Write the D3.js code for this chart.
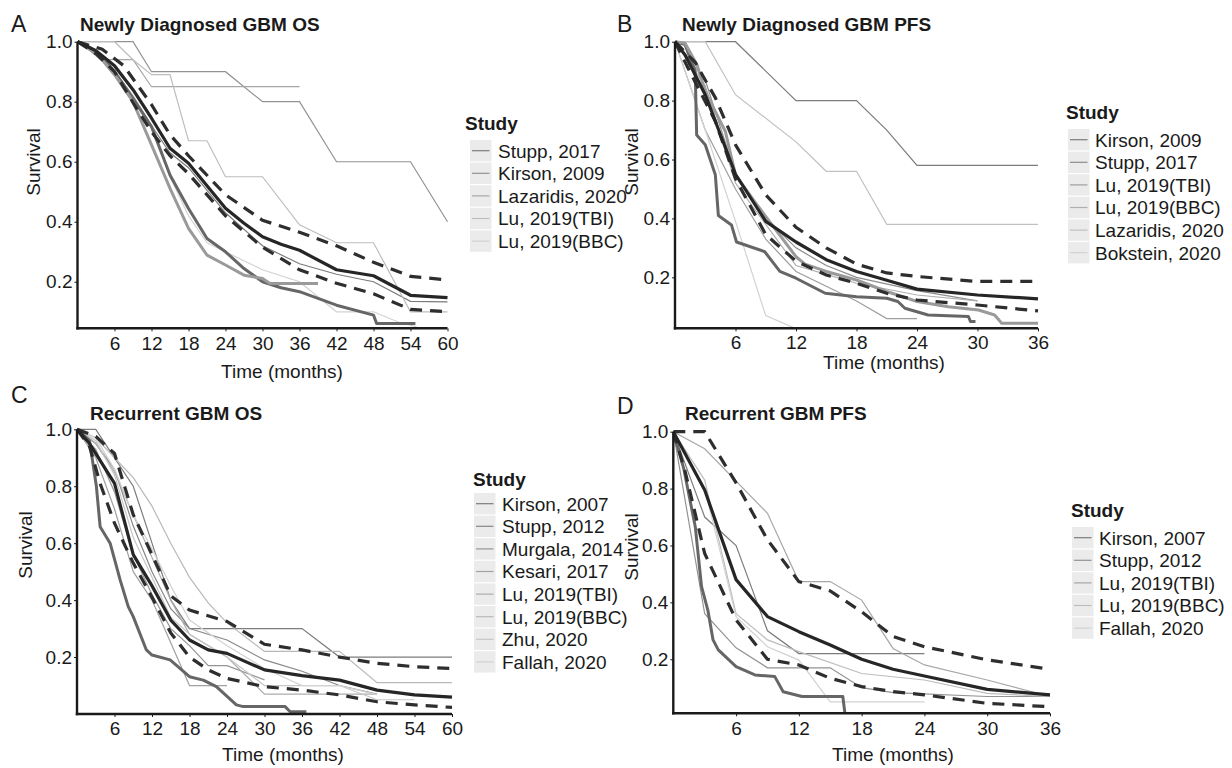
<!DOCTYPE html>
<html>
<head>
<meta charset="utf-8">
<script src="https://cdn.jsdelivr.net/npm/d3@7"></script>
<style>
  body { margin: 0; background: #fff; }
  text { font-family: "Liberation Sans", Arial, sans-serif; fill: #1a1a1a; }
</style>
</head>
<body>
<script>
// ---- tick values ----
const ticks60 = [6, 12, 18, 24, 30, 36, 42, 48, 54, 60];
const ticks36 = [6, 12, 18, 24, 30, 36];
const yTicks  = [0.2, 0.4, 0.6, 0.8, 1.0];

// ---- [A] Newly diagnosed GBM OS : [month, survival] ----
const studiesA = ["Stupp, 2017", "Kirson, 2009", "Lazaridis, 2020", "Lu, 2019(TBI)", "Lu, 2019(BBC)"];
const A_stupp2017    = [[0,1],[3,0.96],[6,0.9],[9,0.82],[12,0.72],[15,0.63],[18,0.58],[24,0.43],[30,0.32],[36,0.26],[42,0.225],[48,0.2],[54,0.135],[60,0.133]];
const A_kirson2009   = [[0,1],[9,1],[12,0.9],[24,0.9],[30,0.8],[36,0.8],[42,0.6],[54,0.6],[60,0.4]];
const A_lazaridis    = [[0,1],[4,0.94],[9,0.94],[12,0.85],[36,0.85]];
const A_luTBI        = [[0,1],[6,1],[9,0.94],[12,0.89],[15,0.89],[18,0.67],[21,0.67],[24,0.55],[30,0.55],[36,0.39],[42,0.33],[48,0.33],[54,0.1],[60,0.1]];
const A_luBBC        = [[0,1],[3,0.97],[6,0.9],[9,0.82],[12,0.72],[15,0.55],[18,0.42],[21,0.33],[24,0.3],[30,0.24],[36,0.2],[42,0.1],[48,0.1],[52,0.066],[55,0.05]];
const A_ref1         = [[0,1],[2,0.98],[4.2,0.944],[6,0.9],[9,0.811],[12,0.717],[15,0.556],[18,0.444],[21,0.344],[24,0.3],[27,0.244],[30,0.2],[33,0.18],[36,0.167],[42,0.122],[48,0.089],[48.5,0.061],[54.8,0.061]];
const A_ref2         = [[0,1],[2,0.975],[4.2,0.935],[6,0.89],[9,0.8],[12,0.656],[15,0.511],[18,0.378],[21,0.289],[24,0.256],[27,0.222],[30,0.211],[31.2,0.194],[39,0.194]];
const A_pooled       = [[0,1],[3,0.97],[6,0.92],[9,0.84],[12,0.745],[15,0.645],[18,0.595],[21,0.52],[24,0.445],[27,0.395],[30,0.35],[33,0.325],[36,0.305],[42,0.24],[48,0.22],[54,0.155],[60,0.147]];
const A_upper        = [[0,1],[4,0.975],[7.5,0.92],[12,0.79],[15,0.69],[18,0.62],[24,0.49],[30,0.405],[36,0.365],[42,0.32],[48,0.265],[54,0.218],[60,0.206]];
const A_lower        = [[0,1],[3,0.96],[6,0.9],[9.5,0.78],[12,0.7],[15,0.62],[18,0.56],[24,0.42],[30,0.315],[36,0.24],[42,0.195],[48,0.16],[54,0.108],[60,0.1]];

// ---- [B] Newly diagnosed GBM PFS ----
const studiesB = ["Kirson, 2009", "Stupp, 2017", "Lu, 2019(TBI)", "Lu, 2019(BBC)", "Lazaridis, 2020", "Bokstein, 2020"];
const B_kirson2009   = [[0,1],[6,1],[12,0.8],[18,0.8],[21,0.7],[24,0.58],[36,0.58]];
const B_stupp2017    = [[0,1],[3,0.87],[6,0.55],[9,0.4],[12,0.3],[15,0.24],[18,0.2],[24,0.155],[30,0.12]];
const B_luTBI        = [[0,1],[1,0.9],[3,0.7],[6,0.5],[9,0.33],[12,0.22],[18,0.12],[21,0.06],[24,0.06]];
const B_luBBC        = [[0,1],[3,0.85],[6,0.52],[9,0.38],[12,0.24],[15,0.21],[18,0.18],[24,0.14],[30,0.12]];
const B_lazaridis    = [[0,1],[3,1],[6,0.82],[12,0.66],[15,0.56],[18,0.56],[21,0.38],[36,0.38]];
const B_bokstein     = [[0,1],[1,0.9],[3,0.7],[6,0.39],[9,0.07],[11.7,0.03]];
const B_ref1         = [[0,1],[1,0.99],[2,0.9],[2.15,0.683],[3,0.65],[4,0.548],[4.3,0.41],[5.6,0.378],[6.1,0.32],[8.9,0.287],[10.4,0.22],[12,0.197],[14.9,0.146],[18,0.134],[21,0.129],[22.1,0.118],[22.8,0.095],[25.1,0.072],[29.1,0.067],[29.3,0.05],[29.8,0.05]];
const B_ref2         = [[0,1],[1,0.995],[2.2,0.92],[3,0.83],[5,0.695],[6,0.548],[7.9,0.457],[12,0.27],[12.9,0.245],[15,0.22],[18,0.191],[21,0.152],[24,0.118],[27.1,0.1],[30.1,0.089],[31.7,0.072],[32.4,0.044],[36,0.044]];
const B_pooled       = [[0,1],[1,0.955],[3,0.82],[6,0.55],[9,0.39],[12,0.32],[15,0.26],[18,0.22],[21,0.19],[24,0.16],[30,0.14],[36,0.127]];
const B_upper        = [[0,1],[2,0.93],[4,0.81],[6,0.65],[9,0.48],[12,0.37],[15,0.3],[18,0.245],[21,0.215],[24,0.203],[30,0.186],[36,0.186]];
const B_lower        = [[0,1],[1.3,0.91],[4,0.73],[6,0.535],[9,0.345],[12,0.255],[15,0.208],[18,0.18],[21,0.146],[24,0.123],[30,0.106],[36,0.086]];

// ---- [C] Recurrent GBM OS ----
const studiesC = ["Kirson, 2007", "Stupp, 2012", "Murgala, 2014", "Kesari, 2017", "Lu, 2019(TBI)", "Lu, 2019(BBC)", "Zhu, 2020", "Fallah, 2020"];
const C_kirson2007   = [[0,1],[3,1],[9,0.8],[12,0.6],[15,0.4],[18,0.3],[36,0.3],[42,0.2],[60,0.2]];
const C_stupp2012    = [[0,1],[3,0.95],[6,0.86],[9,0.66],[12,0.5],[15,0.37],[18,0.3],[24,0.26],[30,0.19],[36,0.15],[42,0.1],[48,0.07]];
const C_murgala2014  = [[0,1],[3,0.93],[6,0.78],[9,0.56],[12,0.42],[15,0.3],[18,0.24],[21,0.17],[24,0.17],[30,0.12]];
const C_kesari2017   = [[0,1],[3,0.9],[6,0.72],[9,0.5],[12,0.4],[15,0.25],[18,0.1],[24,0.1]];
const C_luTBI        = [[0,1],[3,0.95],[6,0.85],[9,0.7],[12,0.55],[15,0.4],[18,0.28],[24,0.2],[30,0.07],[48,0.07]];
const C_luBBC        = [[0,1],[3,0.97],[6,0.9],[9,0.83],[12,0.73],[15,0.6],[18,0.48],[21,0.39],[24,0.32],[30,0.22],[42,0.22],[48,0.11],[60,0.11]];
const C_zhu2020      = [[0,1],[3,0.96],[6,0.84],[9,0.62],[12,0.48],[15,0.34],[18,0.28],[24,0.2],[30,0.1],[42,0.1],[48,0.05],[54,0.05]];
const C_fallah2020   = [[0,1],[3,0.97],[6,0.86],[9,0.7],[12,0.58],[15,0.45],[18,0.33],[24,0.24],[30,0.16],[36,0.1],[42,0.1],[48,0.068]];
const C_ref1         = [[0,1],[2,0.96],[3.1,0.8],[3.7,0.658],[5.3,0.6],[6.9,0.471],[8.2,0.377],[9,0.342],[11.1,0.225],[12,0.207],[14.9,0.19],[18,0.131],[20.2,0.119],[22.3,0.096],[25.5,0.032],[26.6,0.026],[33.3,0.026],[34.1,0.008],[36.7,0.008]];
const C_pooled       = [[0,1],[2,0.95],[6,0.81],[9,0.56],[12,0.45],[15,0.33],[18,0.26],[21,0.225],[24,0.213],[30,0.155],[36,0.135],[42,0.119],[48,0.084],[54,0.067],[60,0.059]];
const C_upper        = [[0,1],[3,0.975],[6,0.915],[9,0.7],[12,0.56],[15,0.415],[18,0.365],[24,0.325],[30,0.245],[36,0.225],[42,0.2],[48,0.178],[54,0.166],[60,0.16]];
const C_lower        = [[0,1],[2,0.94],[3.7,0.81],[6,0.67],[9,0.53],[12,0.41],[15,0.285],[18,0.2],[21,0.155],[24,0.125],[30,0.096],[36,0.084],[42,0.067],[48,0.043],[54,0.032],[60,0.023]];

// ---- [D] Recurrent GBM PFS ----
const studiesD = ["Kirson, 2007", "Stupp, 2012", "Lu, 2019(TBI)", "Lu, 2019(BBC)", "Fallah, 2020"];
const D_kirson2007   = [[0,1],[3,0.7],[6,0.6],[9,0.3],[12,0.22],[24,0.22]];
const D_stupp2012    = [[0,1],[3,0.36],[6,0.24],[9,0.17],[15,0.17],[18,0.1],[21,0.083],[30,0.069],[36,0.069]];
const D_luTBI        = [[0,1],[3,0.94],[9,0.713],[12,0.473],[15,0.473],[18,0.408],[21,0.238],[24,0.18],[30,0.127],[36,0.069]];
const D_luBBC        = [[0,1],[3,0.83],[6,0.36],[9,0.268],[12,0.227],[18,0.15],[24,0.127],[30,0.08],[36,0.069]];
const D_fallah2020   = [[0,1],[3,0.8],[6,0.35],[9,0.244],[12,0.197],[15,0.05],[24,0.05]];
const D_ref1         = [[0,1],[1,0.87],[2.1,0.666],[2.7,0.455],[3.3,0.373],[3.8,0.268],[4.3,0.233],[6,0.174],[7.8,0.145],[9.7,0.139],[10.5,0.086],[12.3,0.069],[16.2,0.069],[16.4,0.01]];
const D_pooled       = [[0,1],[3,0.795],[6,0.48],[9,0.35],[12,0.297],[15,0.25],[18,0.2],[21,0.165],[24,0.141],[30,0.094],[36,0.075]];
const D_upper        = [[0,1],[3,1],[6,0.82],[9,0.62],[12,0.473],[15,0.44],[18,0.367],[21,0.28],[24,0.244],[30,0.198],[36,0.165]];
const D_lower        = [[0,1],[1.1,0.865],[3,0.572],[6,0.338],[9,0.2],[12,0.18],[15,0.133],[18,0.104],[21,0.086],[24,0.075],[30,0.045],[36,0.033]];

// ---- panels (layout lives here, data comes from the arrays above) ----
const panels = [
  { letter: "A", title: "Newly Diagnosed GBM OS", xMax: 60, ticks: ticks60, yMin: 0.045,
    left: 77.5, right: 447.5, top: 41.7, bottom: 328.3, tickPad: 5,
    letterPos: [11, 32], titlePos: [80, 31], ylabPos: [40, 162], xlabPos: [282, 378],
    names: studiesA, studies: [A_stupp2017, A_kirson2009, A_lazaridis, A_luTBI, A_luBBC],
    refs: [A_ref1, A_ref2], pooled: A_pooled, upper: A_upper, lower: A_lower,
    legend: { x: 465, titleY: 130, keyX: 470, rowY: 140, textX: 498 } },
  { letter: "B", title: "Newly Diagnosed GBM PFS", xMax: 36, ticks: ticks36, yMin: 0.027,
    left: 675, right: 1038, top: 41.7, bottom: 328.3, tickPad: 4,
    letterPos: [617, 32], titlePos: [682, 31], ylabPos: [638, 162], xlabPos: [884, 369],
    names: studiesB, studies: [B_kirson2009, B_stupp2017, B_luTBI, B_luBBC, B_lazaridis, B_bokstein],
    refs: [B_ref1, B_ref2], pooled: B_pooled, upper: B_upper, lower: B_lower,
    legend: { x: 1066, titleY: 119, keyX: 1068, rowY: 129, textX: 1095 } },
  { letter: "C", title: "Recurrent GBM OS", xMax: 60, ticks: ticks60, yMin: 0.0,
    left: 77, right: 452, top: 429.3, bottom: 714, tickPad: 5,
    letterPos: [11, 403], titlePos: [90, 420], ylabPos: [32, 545], xlabPos: [283, 761],
    names: studiesC, studies: [C_kirson2007, C_stupp2012, C_murgala2014, C_kesari2017, C_luTBI, C_luBBC, C_zhu2020, C_fallah2020],
    refs: [C_ref1], pooled: C_pooled, upper: C_upper, lower: C_lower,
    legend: { x: 473, titleY: 486, keyX: 474, rowY: 493, textX: 502 } },
  { letter: "D", title: "Recurrent GBM PFS", xMax: 36, ticks: ticks36, yMin: 0.01,
    left: 673.3, right: 1050, top: 431.7, bottom: 713.3, tickPad: 5,
    letterPos: [617, 414], titlePos: [685, 420], ylabPos: [638, 547], xlabPos: [893, 761],
    names: studiesD, studies: [D_kirson2007, D_stupp2012, D_luTBI, D_luBBC, D_fallah2020],
    refs: [D_ref1], pooled: D_pooled, upper: D_upper, lower: D_lower,
    legend: { x: 1071, titleY: 517, keyX: 1072, rowY: 527, textX: 1099 } }
];

const refColors = ["#666666", "#9a9a9a"];
const rowH = 22.6;

const svg = d3.select("body").append("svg")
    .attr("width", 1232)
    .attr("height", 768);

panels.forEach((p, pi) => {
    const x = d3.scaleLinear().domain([0, p.xMax]).range([p.left, p.right]);
    const y = d3.scaleLinear().domain([p.yMin, 1]).range([p.bottom, p.top]);
    const shade = d3.scaleLinear().domain([0, p.names.length - 1]).range(["#7c7c7c", "#d2d2d2"]);

    const line = d3.line()
        .x(d => x(d[0]))
        .y(d => y(d[1]));

    const g = svg.append("g");

    g.append("clipPath").attr("id", "clip" + pi)
      .append("rect")
        .attr("x", p.left).attr("y", p.top - 4)
        .attr("width", p.right - p.left + 4).attr("height", p.bottom - p.top + 4);

    const plot = g.append("g").attr("clip-path", `url(#clip${pi})`);

    // individual studies, thin greys
    plot.selectAll("path.study")
        .data(p.studies)
        .enter().append("path")
            .attr("class", "study")
            .attr("fill", "none")
            .attr("stroke", (d, i) => shade(i))
            .attr("stroke-width", 1.2)
            .attr("d", line);

    // thick grey reference curves
    plot.selectAll("path.ref")
        .data(p.refs)
        .enter().append("path")
            .attr("class", "ref")
            .attr("fill", "none")
            .attr("stroke", (d, i) => refColors[i])
            .attr("stroke-width", 3)
            .attr("stroke-linejoin", "round")
            .attr("d", line);

    // pooled curve and its interval
    [p.upper, p.lower].forEach(ci => {
        plot.append("path")
            .attr("fill", "none")
            .attr("stroke", "#2e2e2e")
            .attr("stroke-width", 3.2)
            .attr("stroke-dasharray", "12,8")
            .attr("d", line(ci));
    });
    plot.append("path")
        .attr("fill", "none")
        .attr("stroke", "#262626")
        .attr("stroke-width", 3.2)
        .attr("stroke-linejoin", "round")
        .attr("d", line(p.pooled));

    // axes
    const xAxis = d3.axisBottom(x).tickValues(p.ticks).tickSize(3).tickSizeOuter(0).tickPadding(p.tickPad);
    const yAxis = d3.axisLeft(y).tickValues(yTicks).tickSize(3).tickSizeOuter(0).tickPadding(2)
        .tickFormat(d3.format(".1f"));

    g.append("g")
        .attr("transform", `translate(0,${p.bottom})`)
        .call(xAxis)
        .call(a => a.select(".domain").attr("stroke", "#1a1a1a").attr("stroke-width", 2.4)
            .attr("d", `M${p.left - 1.2},0H${p.right}`))
        .call(a => a.selectAll(".tick line").attr("stroke", "#1a1a1a"))
        .call(a => a.selectAll("text").attr("font-size", 19).attr("fill", "#1a1a1a")
            .attr("font-family", "Liberation Sans, Arial, sans-serif"));

    g.append("g")
        .attr("transform", `translate(${p.left},0)`)
        .call(yAxis)
        .call(a => a.select(".domain").attr("stroke", "#1a1a1a").attr("stroke-width", 2.4)
            .attr("d", `M0,${p.top}V${p.bottom + 1.2}`))
        .call(a => a.selectAll(".tick line").attr("stroke", "#1a1a1a"))
        .call(a => a.selectAll("text").attr("font-size", 19).attr("fill", "#1a1a1a")
            .attr("font-family", "Liberation Sans, Arial, sans-serif"));

    // labels
    g.append("text")
        .attr("x", p.letterPos[0]).attr("y", p.letterPos[1])
        .attr("font-size", 23)
        .text(p.letter);

    g.append("text")
        .attr("x", p.titlePos[0]).attr("y", p.titlePos[1])
        .attr("font-size", 19).attr("font-weight", "bold")
        .text(p.title);

    g.append("text")
        .attr("transform", `translate(${p.ylabPos[0]},${p.ylabPos[1]}) rotate(-90)`)
        .attr("text-anchor", "middle")
        .attr("font-size", 19)
        .text("Survival");

    g.append("text")
        .attr("x", p.xlabPos[0]).attr("y", p.xlabPos[1])
        .attr("text-anchor", "middle")
        .attr("font-size", 19)
        .text("Time (months)");

    // legend
    const lg = g.append("g");
    lg.append("text")
        .attr("x", p.legend.x).attr("y", p.legend.titleY)
        .attr("font-size", 19).attr("font-weight", "bold")
        .text("Study");

    const rows = lg.selectAll("g.row")
        .data(p.names)
        .enter().append("g")
            .attr("transform", (d, i) => `translate(0,${p.legend.rowY + i * rowH})`);

    rows.append("rect")
        .attr("x", p.legend.keyX).attr("y", 0)
        .attr("width", 21.5).attr("height", rowH - 1.2)
        .attr("fill", "#ebebeb");

    rows.append("line")
        .attr("x1", p.legend.keyX + 2).attr("x2", p.legend.keyX + 19.5)
        .attr("y1", (rowH - 1.2) / 2).attr("y2", (rowH - 1.2) / 2)
        .attr("stroke", (d, i) => shade(i))
        .attr("stroke-width", 1.2);

    rows.append("text")
        .attr("x", p.legend.textX).attr("y", (rowH - 1.2) / 2 + 6.8)
        .attr("font-size", 19)
        .text(d => d);
});
</script>
</body>
</html>
